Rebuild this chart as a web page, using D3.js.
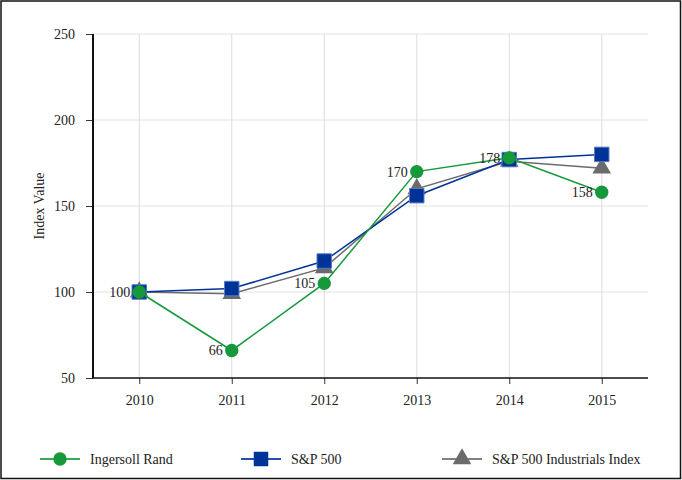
<!DOCTYPE html>
<html>
<head>
<meta charset="utf-8">
<script src="https://cdn.jsdelivr.net/npm/d3@7"></script>
<style>
  body { margin: 0; background: #fff; }
  svg text { font-family: "Liberation Serif", "DejaVu Serif", serif !important; fill: #222; }
</style>
</head>
<body>
<div id="chart"></div>
<script>
var years = ["2010", "2011", "2012", "2013", "2014", "2015"];
var ingersoll = [100, 66, 105, 170, 178, 158];
var sp500 = [100, 102, 118, 156, 177, 180];
var industrials = [100, 99, 114, 160, 176, 172];
var yTicks = [50, 100, 150, 200, 250];

var W = 682, H = 480;
var margin = {top: 34, right: 34, bottom: 102, left: 93},
    width = W - margin.left - margin.right,
    height = H - margin.top - margin.bottom;

var root = d3.select("#chart").append("svg")
    .attr("width", W)
    .attr("height", H)
    .attr("font-family", "Liberation Serif");

// outer frame
root.append("rect")
    .attr("x", 1).attr("y", 1)
    .attr("width", W - 2.5).attr("height", H - 2.5)
    .style("fill", "none")
    .style("stroke", "#111")
    .style("stroke-width", 1.5);

var svg = root.append("g")
    .attr("transform", "translate(" + margin.left + "," + margin.top + ")");

var x = d3.scalePoint()
    .domain(years)
    .range([0, width])
    .padding(0.5);

var y = d3.scaleLinear()
    .domain([50, 250])
    .range([height, 0]);

// grid
svg.append("g").selectAll("line.hgrid")
    .data(yTicks.slice(1))
  .enter().append("line")
    .attr("x1", 0).attr("x2", width)
    .attr("y1", function(d) { return y(d); })
    .attr("y2", function(d) { return y(d); })
    .style("stroke", "#e2e2e2")
    .style("stroke-width", 1);

svg.append("g").selectAll("line.vgrid")
    .data(years)
  .enter().append("line")
    .attr("x1", function(d) { return x(d); })
    .attr("x2", function(d) { return x(d); })
    .attr("y1", 0).attr("y2", height)
    .style("stroke", "#dcdcdc")
    .style("stroke-width", 1);

// axes
var yAxis = svg.append("g")
    .call(d3.axisLeft(y).tickValues(yTicks).tickSize(7).tickPadding(11));
yAxis.attr("font-family", "Liberation Serif").attr("font-size", 14);
yAxis.select(".domain").remove();
yAxis.selectAll("line").style("stroke", "#333");

svg.append("line")
    .attr("x1", 0).attr("x2", 0)
    .attr("y1", 0).attr("y2", height)
    .style("stroke", "#111")
    .style("stroke-width", 2);

var xAxis = svg.append("g")
    .attr("transform", "translate(0," + height + ")")
    .call(d3.axisBottom(x).tickSize(6).tickPadding(11));
xAxis.attr("font-family", "Liberation Serif").attr("font-size", 14);
xAxis.select(".domain").remove();
xAxis.selectAll("line").style("stroke", "#333");

svg.append("line")
    .attr("x1", -1).attr("x2", width)
    .attr("y1", height).attr("y2", height)
    .style("stroke", "#111")
    .style("stroke-width", 1.5);

// Y axis title
svg.append("text")
    .attr("transform", "rotate(-90)")
    .attr("x", -(y(150)))
    .attr("y", 39 - margin.left)
    .attr("dy", "0.35em")
    .style("text-anchor", "middle")
    .style("font-size", "14px")
    .text("Index Value");

var series = [
    {name: "S&P 500 Industrials Index", values: industrials, color: "#6b6b6b", marker: "triangle"},
    {name: "S&P 500", values: sp500, color: "#00339a", marker: "square"},
    {name: "Ingersoll Rand", values: ingersoll, color: "#16993a", marker: "circle"}
];

var line = d3.line()
    .x(function(d, i) { return x(years[i]); })
    .y(function(d) { return y(d); });

function symbolFor(m) {
    if (m === "circle") return d3.symbol().type(d3.symbolCircle).size(140);
    if (m === "square") return d3.symbol().type(d3.symbolSquare).size(210);
    return d3.symbol().type(d3.symbolTriangle).size(150);
}

series.forEach(function(s) {
    var g = svg.append("g");
    g.append("path")
        .datum(s.values)
        .attr("d", line)
        .style("fill", "none")
        .style("stroke", s.color)
        .style("stroke-width", 1.5);
    g.selectAll("path.mk")
        .data(s.values)
      .enter().append("path")
        .attr("class", "mk")
        .attr("transform", function(d, i) { return "translate(" + x(years[i]) + "," + y(d) + ")"; })
        .attr("d", symbolFor(s.marker))
        .style("fill", s.color)
        .style("stroke", s.marker === "square" ? "#5a7bc0" : "none")
        .style("stroke-width", 1);
});

// value labels for Ingersoll Rand
svg.append("g").selectAll("text")
    .data(ingersoll)
  .enter().append("text")
    .attr("x", function(d, i) { return x(years[i]) - 9; })
    .attr("y", function(d) { return y(d); })
    .attr("dy", "0.35em")
    .style("text-anchor", "end")
    .style("font-size", "14px")
    .text(function(d) { return d; });

// legend
var legendX = [40, 241, 442];
var legend = root.append("g")
    .attr("transform", "translate(0,459)");

var items = legend.selectAll("g")
    .data(series.slice().reverse())
  .enter().append("g")
    .attr("transform", function(d, i) { return "translate(" + legendX[i] + ",0)"; });

items.append("line")
    .attr("x1", 0).attr("x2", 40)
    .style("stroke", function(d) { return d.color; })
    .style("stroke-opacity", 0.85)
    .style("stroke-width", 2);

items.append("path")
    .attr("transform", "translate(20,0)")
    .attr("d", function(d) { return symbolFor(d.marker)(); })
    .style("fill", function(d) { return d.color; });

items.append("text")
    .attr("x", 50)
    .attr("dy", "0.35em")
    .style("font-size", "14px")
    .text(function(d) { return d.name; });
</script>
</body>
</html>
